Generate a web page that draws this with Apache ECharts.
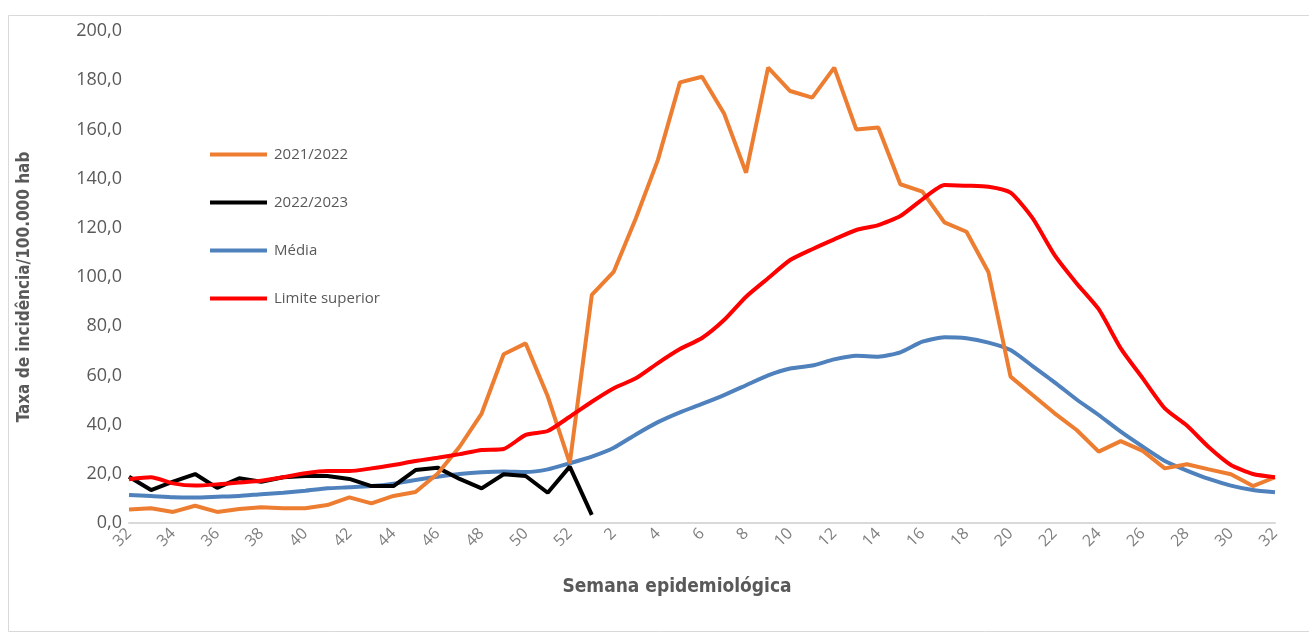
<!DOCTYPE html>
<html>
<head>
<meta charset="utf-8">
<script src="https://cdn.jsdelivr.net/npm/echarts@6/dist/echarts.min.js"></script>
<style>
html, body { margin: 0; padding: 0; background: #fff; }
#chart { width: 1309px; height: 635px; }
</style>
</head>
<body>
<div id="chart"></div>
<script>
// semanas epidemiológicas 32..52 e 1..32
var semanas = ['32','33','34','35','36','37','38','39','40','41','42','43','44','45','46','47','48','49','50','51','52',
    '1','2','3','4','5','6','7','8','9','10','11','12','13','14','15','16','17','18','19','20','21','22','23','24','25','26','27','28','29','30','31','32'];

var s2021 = [5.5, 6.0, 4.5, 7.0, 4.5, 5.7, 6.4, 6.0, 6.0, 7.3, 10.4, 8.0, 11.0, 12.6, 20.0, 31.0, 44.5, 68.6, 73.0, 51.5, 24.3,
    92.7, 102.2, 123.9, 147.6, 179.1, 181.4, 166.5, 142.4, 185.1, 175.6, 172.9, 185.1, 160.0, 160.8, 137.7, 134.7, 122.2, 118.4, 101.9,
    59.5, 52.0, 44.6, 37.8, 29.0, 33.3, 29.3, 22.2, 23.9, 21.8, 19.8, 15.0, 18.6];

var s2022 = [18.8, 13.4, 16.8, 19.9, 14.3, 18.2, 16.8, 18.6, 19.1, 19.1, 17.9, 15.0, 15.0, 21.5, 22.5, 17.9, 14.1, 19.8, 19.1, 12.3, 22.9,
    3.3];

var media = [11.4, 11.0, 10.5, 10.4, 10.7, 11.0, 11.7, 12.3, 13.1, 14.1, 14.5, 15.0, 16.0, 17.5, 18.8, 19.9, 20.6, 20.9, 20.7, 21.8, 24.3,
    27.0, 30.6, 36.0, 41.0, 45.0, 48.4, 52.0, 56.0, 60.0, 62.8, 64.0, 66.5, 68.0, 67.6, 69.4, 73.7, 75.5, 75.1, 73.3,
    70.3, 63.8, 57.2, 50.2, 43.9, 37.1, 31.0, 25.2, 21.3, 17.9, 15.2, 13.4, 12.5];

var limite = [17.8, 18.6, 16.1, 15.2, 15.7, 16.5, 17.2, 18.6, 20.2, 21.1, 21.1, 22.2, 23.6, 25.2, 26.5, 28.0, 29.7, 30.1, 35.8, 37.4, 43.2,
    49.3, 54.8, 58.8, 65.0, 70.7, 75.2, 82.5, 92.0, 99.5, 106.9, 111.3, 115.3, 119.1, 121.1, 124.8, 131.6, 137.4, 137.1, 136.7,
    134.3, 123.9, 108.9, 97.4, 86.9, 71.0, 58.8, 46.6, 39.6, 30.8, 23.6, 19.9, 18.6];

var cinza = '#595959';

var myChart = echarts.init(document.getElementById('chart'));

var option = {
    backgroundColor: '#fff',
    animation: false,
    graphic: [{
        type: 'rect',
        shape: { x: 8.5, y: 15.5, width: 1310, height: 616 },
        style: { fill: 'none', stroke: '#d9d9d9', lineWidth: 1 },
        silent: true
    }],
    grid: { left: 129, right: 34, top: 31, bottom: 112 },
    legend: {
        orient: 'vertical',
        left: 205,
        top: 139,
        itemGap: 27,
        itemWidth: 57,
        itemHeight: 4,
        icon: 'rect',
        textStyle: { color: cinza, fontSize: 15, fontFamily: 'Open Sans', padding: [0, 0, 0, 2], lineHeight: 21 },
        data: ['2021/2022', '2022/2023', 'Média', 'Limite superior']
    },
    xAxis: {
        type: 'category',
        data: semanas,
        boundaryGap: false,
        name: 'Semana epidemiológica',
        nameLocation: 'middle',
        nameGap: 55,
        nameTextStyle: { color: cinza, fontSize: 19, fontWeight: 'bold', fontFamily: 'DejaVu Sans Condensed', padding: [0, 50, 0, 0] },
        axisLine: { lineStyle: { color: '#d9d9d9', width: 2 } },
        axisTick: { show: false },
        axisLabel: { interval: 1, rotate: 45, color: '#7f7f7f', fontSize: 16, fontFamily: 'Open Sans', margin: 8 },
        splitLine: { show: false }
    },
    yAxis: {
        type: 'value',
        min: 0,
        max: 200,
        interval: 20,
        name: 'Taxa de incidência/100.000 hab',
        nameLocation: 'middle',
        nameGap: 96,
        nameTextStyle: { color: cinza, fontSize: 17, fontWeight: 'bold', fontFamily: 'DejaVu Sans Condensed', padding: [0, 20, 0, 0] },
        axisLine: { show: false },
        axisTick: { show: false },
        splitLine: { show: false },
        axisLabel: {
            color: cinza,
            fontSize: 18,
            fontFamily: 'Open Sans',
            margin: 7,
            formatter: function (v) { return v.toFixed(1).replace('.', ','); }
        }
    },
    series: [
        {
            name: '2021/2022', type: 'line', data: s2021, showSymbol: false,
            lineStyle: { color: '#ED7D31', width: 4 }, itemStyle: { color: '#ED7D31' }, z: 3
        },
        {
            name: '2022/2023', type: 'line', data: s2022, showSymbol: false,
            lineStyle: { color: '#000000', width: 4 }, itemStyle: { color: '#000000' }, z: 2
        },
        {
            name: 'Média', type: 'line', data: media, showSymbol: false, smooth: 0.2,
            lineStyle: { color: '#4F81BD', width: 4 }, itemStyle: { color: '#4F81BD' }, z: 1
        },
        {
            name: 'Limite superior', type: 'line', data: limite, showSymbol: false, smooth: 0.2,
            lineStyle: { color: '#FF0000', width: 4 }, itemStyle: { color: '#FF0000' }, z: 4
        }
    ]
};

myChart.setOption(option);

window.addEventListener('resize', function () {
    myChart.resize();
});
</script>
</body>
</html>
